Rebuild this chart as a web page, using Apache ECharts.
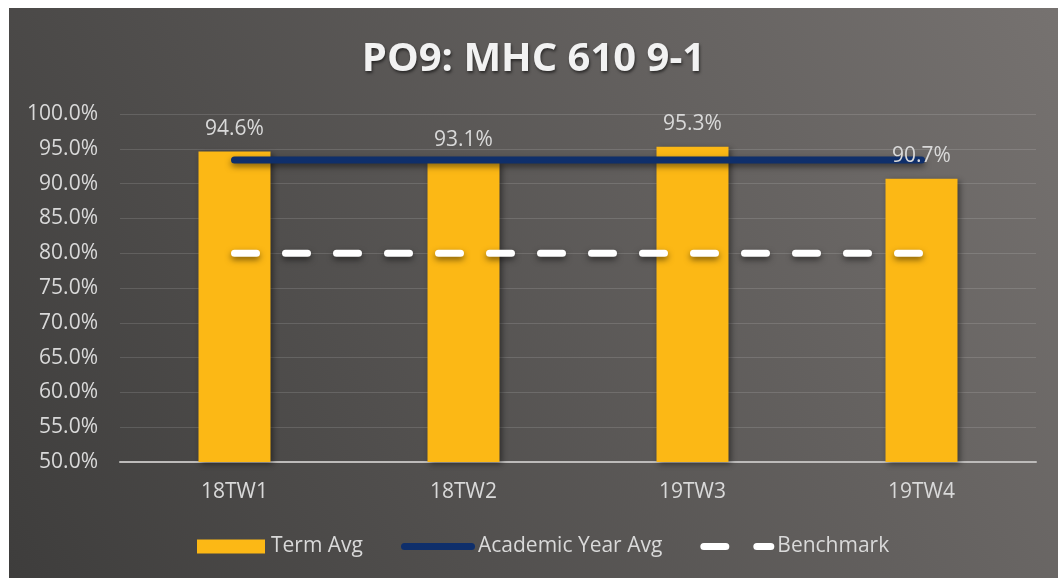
<!DOCTYPE html>
<html>
<head>
<meta charset="utf-8">
<script src="https://cdn.jsdelivr.net/npm/echarts@6/dist/echarts.min.js"></script>
<style>
  html, body { margin: 0; padding: 0; background: #ffffff; }
  #main { position: absolute; left: 9px; top: 8px; width: 1049px; height: 570px; }
</style>
</head>
<body>
<div id="main"></div>
<script>
var categories = ['18TW1', '18TW2', '19TW3', '19TW4'];
var termAvg = [94.6, 93.1, 95.3, 90.7];
var academicYearAvg = [93.4, 93.4, 93.4, 93.4];
var benchmark = [80, 80, 80, 80];
var seriesNames = ['Term Avg', 'Academic Year Avg', 'Benchmark'];

var chartDom = document.getElementById('main');
var myChart = echarts.init(chartDom);
var textColor = '#d9d9d9';
var font = '"Open Sans", sans-serif';

// legend icons: box for bars, a solid pill for the avg line, two pills for the dashed benchmark
var boxIcon = 'path://M0,0 H68 V14 H0 Z';
var pillIcon = 'path://M3.5,0 H70.5 A3.5,3.5 0 0 1 70.5,7 H3.5 A3.5,3.5 0 0 1 3.5,0 Z';
var dashIcon = 'path://M3.5,0 H25.5 A3.5,3.5 0 0 1 25.5,7 H3.5 A3.5,3.5 0 0 1 3.5,0 Z ' +
    'M56.5,0 H70.5 A3.5,3.5 0 0 1 70.5,7 H56.5 A3.5,3.5 0 0 1 56.5,0 Z';

var option = {
    backgroundColor: new echarts.graphic.LinearGradient(1, 0, 0, 1, [
        { offset: 0, color: '#767270' },
        { offset: 1, color: '#3e3d3c' }
    ]),
    title: {
        text: 'PO9: MHC 610 9-1',
        left: 'center',
        top: 27,
        textStyle: {
            color: '#f2f2f2',
            fontFamily: font,
            fontWeight: 'bold',
            fontSize: 40,
            textShadowColor: 'rgba(0,0,0,0.55)',
            textShadowBlur: 3,
            textShadowOffsetX: 1,
            textShadowOffsetY: 2
        }
    },
    legend: {
        bottom: 16,
        left: 183,
        itemWidth: 74,
        itemHeight: 14,
        itemGap: 38,
        textStyle: { color: textColor, fontFamily: font, fontSize: 21, padding: [0, 0, 0, -2] },
        data: [
            { name: seriesNames[0], icon: boxIcon, itemStyle: { color: '#fcb815', borderWidth: 0 } },
            { name: seriesNames[1], icon: pillIcon, itemStyle: { color: '#0f2f6b', borderWidth: 0 } },
            { name: seriesNames[2], icon: dashIcon, itemStyle: { color: '#ffffff', borderWidth: 0 } }
        ]
    },
    grid: {
        left: 111,
        right: 22,
        top: 106,
        bottom: 116
    },
    xAxis: {
        type: 'category',
        data: categories,
        axisTick: { show: false },
        axisLine: { show: true, lineStyle: { color: '#bdbbba', width: 2 } },
        axisLabel: { color: textColor, fontFamily: font, fontSize: 21, margin: 20 }
    },
    yAxis: {
        type: 'value',
        min: 50,
        max: 100,
        interval: 5,
        axisLine: { show: false },
        axisTick: { show: false },
        axisLabel: {
            color: textColor,
            fontFamily: font,
            fontSize: 21,
            margin: 22,
            formatter: function (v) { return v.toFixed(1) + '%'; }
        },
        splitLine: { lineStyle: { color: 'rgba(255,255,255,0.13)', width: 1 } }
    },
    series: [
        {
            name: seriesNames[0],
            type: 'bar',
            data: termAvg,
            barWidth: 72,
            itemStyle: {
                color: '#fcb815',
                shadowColor: 'rgba(0,0,0,0.45)',
                shadowBlur: 6,
                shadowOffsetX: 2,
                shadowOffsetY: 2
            },
            z: 2
        },
        {
            name: seriesNames[1],
            type: 'line',
            data: academicYearAvg,
            symbol: 'none',
            lineStyle: {
                color: '#0f2f6b',
                width: 7,
                cap: 'round',
                shadowColor: 'rgba(0,0,0,0.5)',
                shadowBlur: 6,
                shadowOffsetY: 3
            },
            itemStyle: { color: '#0f2f6b' },
            z: 3
        },
        {
            name: seriesNames[2],
            type: 'line',
            data: benchmark,
            symbol: 'none',
            lineStyle: {
                color: '#ffffff',
                width: 7,
                type: [22, 29],
                cap: 'round',
                shadowColor: 'rgba(0,0,0,0.5)',
                shadowBlur: 6,
                shadowOffsetY: 3
            },
            itemStyle: { color: '#ffffff' },
            z: 3
        },
        {
            // value labels for the bars, drawn above the lines
            name: 'labels',
            type: 'bar',
            data: termAvg,
            barWidth: 72,
            barGap: '-100%',
            silent: true,
            itemStyle: { color: 'rgba(0,0,0,0)' },
            label: {
                show: true,
                position: 'top',
                distance: 12,
                color: textColor,
                fontFamily: font,
                fontSize: 21,
                formatter: function (p) { return p.value.toFixed(1) + '%'; }
            },
            z: 5
        }
    ]
};
option && myChart.setOption(option);
window.addEventListener('resize', function () {
    myChart.resize();
});
</script>
</body>
</html>
